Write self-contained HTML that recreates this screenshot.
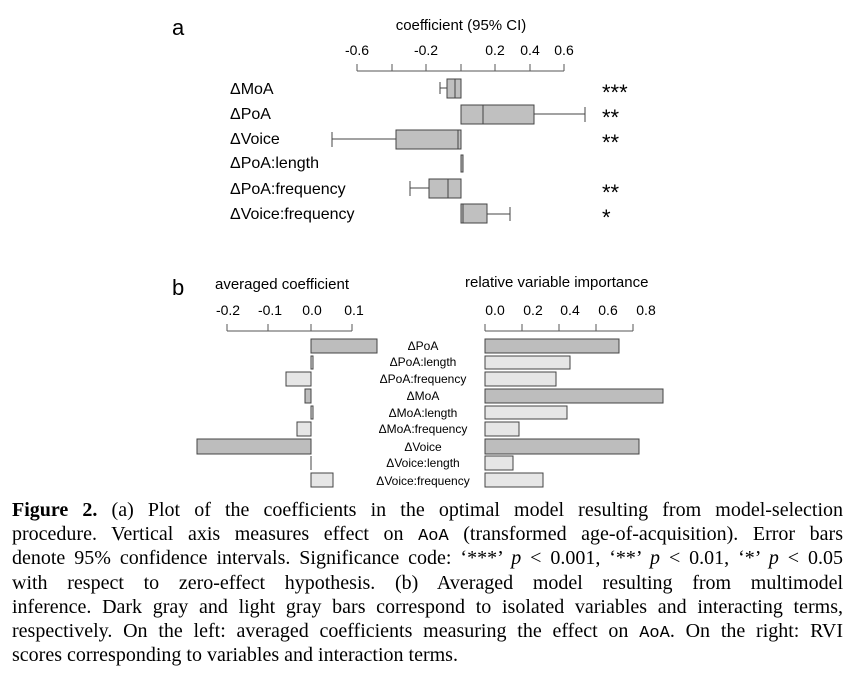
<!DOCTYPE html>
<html><head><meta charset="utf-8"><style>
body{margin:0;width:856px;height:684px;background:#fff;position:relative;overflow:hidden}
svg{position:absolute;left:0;top:0}
.cap{position:absolute;left:12px;width:831px;font-family:"Liberation Serif",serif;font-size:20px;line-height:24px;text-align:justify;text-align-last:justify;white-space:nowrap;color:#000}
.m{font-family:"Liberation Mono",monospace;font-size:17px}
</style></head><body>
<svg width="856" height="490" font-family="Liberation Sans, sans-serif" fill="#000">
<text x="172" y="35" font-size="22">a</text>
<text x="461" y="30" font-size="15" text-anchor="middle">coefficient (95% CI)</text>
<g font-size="14" text-anchor="middle">
<text x="357" y="55">-0.6</text><text x="426" y="55">-0.2</text><text x="495" y="55">0.2</text><text x="530" y="55">0.4</text><text x="564" y="55">0.6</text></g>
<g stroke="#555" stroke-width="1">
<line x1="357" y1="71" x2="564" y2="71"/>
<line x1="357" y1="64" x2="357" y2="71"/><line x1="392" y1="64" x2="392" y2="71"/><line x1="426" y1="64" x2="426" y2="71"/><line x1="461" y1="64" x2="461" y2="71"/><line x1="495" y1="64" x2="495" y2="71"/><line x1="530" y1="64" x2="530" y2="71"/><line x1="564" y1="64" x2="564" y2="71"/>
</g>
<g font-size="16"><text x="230" y="94">ΔMoA</text><text x="230" y="119">ΔPoA</text><text x="230" y="144">ΔVoice</text><text x="230" y="168">ΔPoA:length</text><text x="230" y="194">ΔPoA:frequency</text><text x="230" y="219">ΔVoice:frequency</text></g>
<g font-size="22"><text x="602" y="100">***</text><text x="602" y="125">**</text><text x="602" y="150">**</text><text x="602" y="200">**</text><text x="602" y="225">*</text></g>
<g stroke="#444" stroke-width="1" fill="#c0c0c0">
<line x1="440" y1="88" x2="447" y2="88"/><line x1="440" y1="82" x2="440" y2="94"/>
<rect x="447" y="79" width="14" height="19"/><line x1="455" y1="79" x2="455" y2="98"/>
<rect x="461" y="105" width="73" height="19"/><line x1="534" y1="114" x2="585" y2="114"/><line x1="585" y1="107" x2="585" y2="122"/><line x1="483" y1="105" x2="483" y2="124"/>
<rect x="396" y="130" width="65" height="19"/><line x1="332" y1="139" x2="396" y2="139"/><line x1="332" y1="132" x2="332" y2="147"/><line x1="458" y1="130" x2="458" y2="149"/>
<rect x="461" y="155" width="2" height="17"/>
<rect x="429" y="179" width="32" height="19"/><line x1="410" y1="188" x2="429" y2="188"/><line x1="410" y1="181" x2="410" y2="196"/><line x1="448" y1="179" x2="448" y2="198"/>
<rect x="461" y="204" width="26" height="19"/><line x1="487" y1="214" x2="510" y2="214"/><line x1="510" y1="207" x2="510" y2="221"/><line x1="463" y1="204" x2="463" y2="223"/>
</g>
<text x="172" y="295" font-size="22">b</text>
<text x="215" y="289" font-size="15">averaged coefficient</text>
<text x="465" y="287" font-size="15">relative variable importance</text>
<g font-size="14" text-anchor="middle">
<text x="228" y="315">-0.2</text><text x="270" y="315">-0.1</text><text x="312" y="315">0.0</text><text x="354" y="315">0.1</text>
<text x="495" y="315">0.0</text><text x="533" y="315">0.2</text><text x="570" y="315">0.4</text><text x="608" y="315">0.6</text><text x="646" y="315">0.8</text></g>
<g stroke="#555">
<line x1="227" y1="331" x2="352" y2="331"/><line x1="227" y1="324" x2="227" y2="331"/><line x1="268" y1="324" x2="268" y2="331"/><line x1="311" y1="324" x2="311" y2="331"/><line x1="352" y1="324" x2="352" y2="331"/>
<line x1="485" y1="331" x2="633" y2="331"/><line x1="485" y1="324" x2="485" y2="331"/><line x1="522" y1="324" x2="522" y2="331"/><line x1="559" y1="324" x2="559" y2="331"/><line x1="596" y1="324" x2="596" y2="331"/><line x1="633" y1="324" x2="633" y2="331"/>
</g>
<g font-size="12" text-anchor="middle">
<text x="423" y="350">ΔPoA</text><text x="423" y="366">ΔPoA:length</text><text x="423" y="383">ΔPoA:frequency</text><text x="423" y="400">ΔMoA</text><text x="423" y="417">ΔMoA:length</text><text x="423" y="433">ΔMoA:frequency</text><text x="423" y="451">ΔVoice</text><text x="423" y="467">ΔVoice:length</text><text x="423" y="485">ΔVoice:frequency</text></g>
<g stroke="#444">
<rect x="311" y="339" width="66" height="14" fill="#bdbdbd"/>
<rect x="311" y="356" width="2" height="13" fill="#e6e6e6"/>
<rect x="286" y="372" width="25" height="14" fill="#e6e6e6"/>
<rect x="305" y="389" width="6" height="14" fill="#bdbdbd"/>
<rect x="311" y="406" width="2" height="13" fill="#e6e6e6"/>
<rect x="297" y="422" width="14" height="14" fill="#e6e6e6"/>
<rect x="197" y="439" width="114" height="15" fill="#bdbdbd"/>
<line x1="311" y1="456" x2="311" y2="470"/>
<rect x="311" y="473" width="22" height="14" fill="#e6e6e6"/>
<rect x="485" y="339" width="134" height="14" fill="#bdbdbd"/>
<rect x="485" y="356" width="85" height="13" fill="#e6e6e6"/>
<rect x="485" y="372" width="71" height="14" fill="#e6e6e6"/>
<rect x="485" y="389" width="178" height="14" fill="#bdbdbd"/>
<rect x="485" y="406" width="82" height="13" fill="#e6e6e6"/>
<rect x="485" y="422" width="34" height="14" fill="#e6e6e6"/>
<rect x="485" y="439" width="154" height="15" fill="#bdbdbd"/>
<rect x="485" y="456" width="28" height="14" fill="#e6e6e6"/>
<rect x="485" y="473" width="58" height="14" fill="#e6e6e6"/>
</g>
</svg>
<div class="cap" style="top:498px"><b>Figure 2.</b> (a) Plot of the coefficients in the optimal model resulting from model-selection</div>
<div class="cap" style="top:522px">procedure. Vertical axis measures effect on <span class="m">AoA</span> (transformed age-of-acquisition). Error bars</div>
<div class="cap" style="top:546px">denote 95% confidence intervals. Significance code: ‘***’ <i>p</i> &lt; 0.001, ‘**’ <i>p</i> &lt; 0.01, ‘*’ <i>p</i> &lt; 0.05</div>
<div class="cap" style="top:571px">with respect to zero-effect hypothesis. (b) Averaged model resulting from multimodel</div>
<div class="cap" style="top:595px">inference. Dark gray and light gray bars correspond to isolated variables and interacting terms,</div>
<div class="cap" style="top:619px">respectively. On the left: averaged coefficients measuring the effect on <span class="m">AoA</span>. On the right: RVI</div>
<div class="cap" style="top:643px;text-align-last:left">scores corresponding to variables and interaction terms.</div>
</body></html>
